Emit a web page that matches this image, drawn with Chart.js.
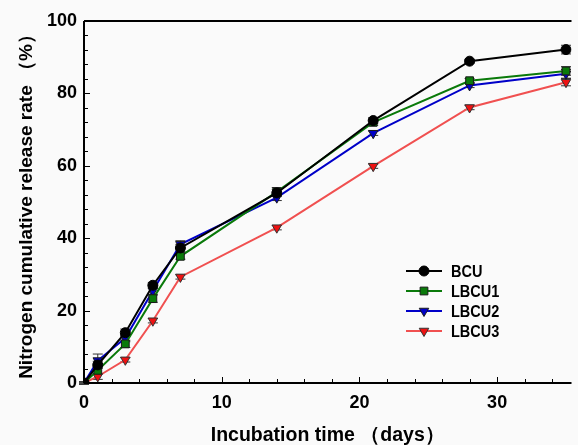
<!DOCTYPE html>
<html><head><meta charset="utf-8">
<script src="https://cdn.jsdelivr.net/npm/chart.js@4"></script>
<style>html,body{margin:0;padding:0;background:#fafafa;overflow:hidden}#wrap{width:578px;height:445px;position:relative}</style>
</head><body><div id="wrap"><canvas id="c" width="578" height="445"></canvas></div>
<script>
const days = [0, 1, 3, 5, 7, 14, 21, 28, 35];
const seriesNames = ['BCU', 'LBCU1', 'LBCU2', 'LBCU3'];
const BCU   = [0, 5.0, 13.9, 27.0, 37.3, 52.5, 72.5, 88.9, 92.1];
const LBCU1 = [0, 3.5, 10.8, 23.3, 35.0, 52.8, 72.0, 83.5, 86.2];
const LBCU2 = [0, 6.2, 12.4, 25.5, 38.3, 51.2, 69.0, 82.2, 85.4];
const LBCU3 = [0, 1.8, 6.4, 17.2, 29.3, 42.9, 59.9, 76.1, 83.1];
const errBCU   = [0.3, 1.0, 1.0, 0.8, 1.0, 1.0, 0.8, 0.5, 1.2];
const errLBCU1 = [0.3, 1.0, 1.0, 1.0, 0.8, 1.2, 0.8, 0.6, 1.2];
const errLBCU2 = [0.3, 1.8, 1.0, 1.0, 1.0, 0.8, 0.6, 0.6, 1.2];
const errLBCU3 = [0.3, 0.8, 0.6, 0.6, 0.6, 0.6, 0.6, 0.6, 1.0];
const xTicks = [0, 10, 20, 30];
const yTicks = [0, 20, 40, 60, 80, 100];

const FONT = "'Liberation Sans', Arial, sans-serif";
const styles = [
  {line:'#000000', fill:'#000000', border:'#000000', ps:'circle', rot:0, r:5},
  {line:'#0a7a0a', fill:'#0a7a0a', border:'#1a1a1a', ps:'rect', rot:0, r:5.5},
  {line:'#0000c8', fill:'#0000c8', border:'#1a1a1a', ps:'triangle', rot:180, r:5.5},
  {line:'#f05050', fill:'#ee1111', border:'#333333', ps:'triangle', rot:180, r:5.5}
];
const vals = [BCU, LBCU1, LBCU2, LBCU3];
const errs = [errBCU, errLBCU1, errLBCU2, errLBCU3];

const datasets = seriesNames.map((n, i) => ({
  label: n,
  data: days.map((d, j) => ({x: d, y: vals[i][j]})),
  borderColor: styles[i].line,
  backgroundColor: styles[i].fill,
  pointBorderColor: styles[i].border,
  pointBackgroundColor: styles[i].fill,
  pointStyle: styles[i].ps,
  pointRotation: styles[i].rot,
  pointRadius: styles[i].r,
  pointBorderWidth: 1,
  borderWidth: 2,
  tension: 0,
  errors: errs[i]
}));

const decor = {
  id: 'decor',
  beforeDatasetsDraw(chart) {
    const ctx = chart.ctx, xs = chart.scales.x, ys = chart.scales.y;
    ctx.save();
    ctx.strokeStyle = '#333';
    ctx.lineWidth = 1;
    chart.data.datasets.forEach(ds => {
      ds.data.forEach((p, j) => {
        const e = ds.errors[j];
        const px = xs.getPixelForValue(p.x);
        const y1 = ys.getPixelForValue(p.y + e), y2 = ys.getPixelForValue(p.y - e);
        ctx.beginPath();
        ctx.moveTo(px, y1); ctx.lineTo(px, y2);
        ctx.moveTo(px - 5, y1); ctx.lineTo(px + 5, y1);
        ctx.moveTo(px - 5, y2); ctx.lineTo(px + 5, y2);
        ctx.stroke();
      });
    });
    ctx.restore();
  },
  afterDraw(chart) {
    const ctx = chart.ctx, xs = chart.scales.x, ys = chart.scales.y, a = chart.chartArea;
    ctx.save();
    ctx.strokeStyle = '#000';
    ctx.lineWidth = 2;
    ctx.beginPath();
    ctx.moveTo(a.left, a.top); ctx.lineTo(a.right, a.top);
    ctx.moveTo(a.left, a.top); ctx.lineTo(a.left, a.bottom);
    ctx.moveTo(a.left, a.bottom); ctx.lineTo(a.right, a.bottom);
    ctx.stroke();
    ctx.lineWidth = 1;
    ctx.beginPath();
    for (let v = 0; v <= xs.max; v += 2) {
      const px = Math.round(xs.getPixelForValue(v)) + 0.5;
      const len = v % 10 === 0 ? 6 : 4;
      ctx.moveTo(px, a.bottom); ctx.lineTo(px, a.bottom - len);
    }
    for (let v = 0; v <= 100; v += 4) {
      const py = Math.round(ys.getPixelForValue(v)) + 0.5;
      const len = v % 20 === 0 ? 6 : 4;
      ctx.moveTo(a.left, py); ctx.lineTo(a.left + len, py);
    }
    ctx.stroke();
    // legend
    const lx = 406, lw = 36, tx = 451, y0 = 271, dy = 20;
    chart.data.datasets.forEach((ds, i) => {
      const y = y0 + i * dy;
      ctx.strokeStyle = ds.borderColor;
      ctx.lineWidth = 2;
      ctx.beginPath(); ctx.moveTo(lx, y); ctx.lineTo(lx + lw, y); ctx.stroke();
      ctx.fillStyle = ds.pointBackgroundColor;
      ctx.strokeStyle = ds.pointBorderColor;
      ctx.lineWidth = 1;
      Chart.helpers.drawPoint(ctx, {pointStyle: ds.pointStyle, rotation: ds.pointRotation, radius: ds.pointRadius, borderWidth: 1}, lx + lw / 2, y);
      ctx.save();
      ctx.translate(tx, y + 1);
      ctx.scale(0.88, 1);
      ctx.font = 'bold 16.5px ' + FONT;
      ctx.textBaseline = 'middle';
      ctx.textAlign = 'left';
      ctx.fillStyle = '#000';
      ctx.fillText(ds.label, 0, 0);
      ctx.restore();
    });
    ctx.restore();
  }
};

new Chart(document.getElementById('c'), {
  type: 'line',
  data: { datasets },
  plugins: [decor],
  options: {
    responsive: false,
    animation: false,
    devicePixelRatio: 1,
    layout: { padding: { top: 21, right: 0, left: 0, bottom: 0 } },
    plugins: { legend: { display: false }, tooltip: { enabled: false } },
    scales: {
      x: {
        type: 'linear', min: 0, max: 35.4,
        afterBuildTicks: s => { s.ticks = xTicks.map(v => ({value: v})); },
        afterFit: s => { s.height = 62; },
        grid: { display: false, drawTicks: false },
        border: { display: false },
        ticks: { color: '#000', padding: 9, font: { family: FONT, size: 18, weight: 'bold' }, maxRotation: 0 },
        title: { display: true, text: 'Incubation time （days）', color: '#000', padding: { top: 8, bottom: -2 }, font: { family: FONT, size: 19.5, weight: 'bold' } }
      },
      y: {
        min: 0, max: 100,
        afterBuildTicks: s => { s.ticks = yTicks.map(v => ({value: v})); },
        afterFit: s => { s.width = 84; },
        grid: { display: false, drawTicks: false },
        border: { display: false },
        ticks: { color: '#000', padding: 7, font: { family: FONT, size: 18, weight: 'bold' } },
        title: { display: true, text: 'Nitrogen cumulative release rate （%）', color: '#000', padding: { top: 15, bottom: 0 }, font: { family: FONT, size: 19, weight: 'bold' } }
      }
    }
  }
});
</script></body></html>
